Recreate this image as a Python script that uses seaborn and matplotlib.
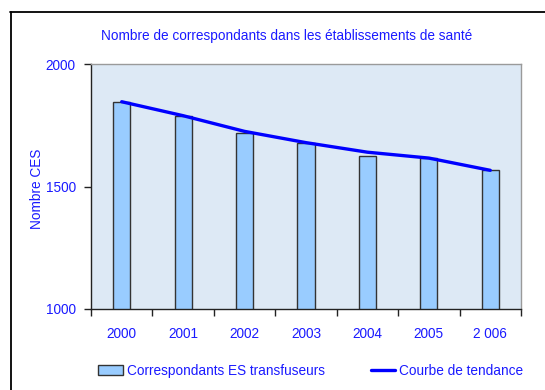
import matplotlib
matplotlib.use("Agg")
import matplotlib.pyplot as plt
from matplotlib.patches import Patch
from matplotlib.lines import Line2D
import numpy as np
import pandas as pd
import seaborn as sns

# Data
years = ["2000", "2001", "2002", "2003", "2004", "2005", "2006"]
year_labels = ["2000", "2001", "2002", "2003", "2004", "2005", "2 006"]
correspondants = [1846, 1788, 1717, 1678, 1626, 1618, 1566]
tendance = [1846, 1789, 1725, 1679, 1640, 1616, 1566]
y_ticks = [1000, 1500, 2000]

title = "Nombre de correspondants dans les établissements de santé"
y_label = "Nombre CES"
bar_label = "Correspondants ES transfuseurs"
line_label = "Courbe de tendance"

TEXT_BLUE = "#1a1aff"
BAR_FILL = "#99ccff"
BAR_EDGE = "#333333"
PLOT_BG = "#dde9f5"
FS = 9.8

sns.set_theme(style="white")
plt.rcParams["font.family"] = ["Liberation Sans", "DejaVu Sans"]

W, H = 545, 390
fig = plt.figure(figsize=(W / 100, H / 100), dpi=100)
fig.patch.set_facecolor("white")
ax = fig.add_axes([91 / W, 1 - 309 / H, (521 - 91) / W, (309 - 64) / H])
ax.set_facecolor(PLOT_BG)

df = pd.DataFrame({"annee": years, "n": correspondants})
sns.barplot(data=df, x="annee", y="n", order=years, width=0.28,
            color=BAR_FILL, saturation=1, edgecolor=BAR_EDGE, linewidth=1.0,
            ax=ax, zorder=2)

trend_df = pd.DataFrame({"pos": np.arange(len(years)), "t": tendance})
sns.lineplot(data=trend_df, x="pos", y="t", color="#0000ff", linewidth=2.4,
             ax=ax, zorder=3)

ax.set_ylim(y_ticks[0], y_ticks[-1])
ax.set_xlim(-0.5, len(years) - 0.5)
ax.set_yticks(y_ticks)
ax.set_yticklabels([str(v) for v in y_ticks], color=TEXT_BLUE, fontsize=FS)

# category labels centred, tick marks on category boundaries
ax.set_xticks(np.arange(len(years)))
ax.set_xticklabels(year_labels, color=TEXT_BLUE, fontsize=FS)
ax.tick_params(axis="x", which="major", length=0, pad=13)
ax.set_xticks(np.arange(len(years) + 1) - 0.5, minor=True)
ax.tick_params(axis="x", which="minor", length=5, width=1, color="#222222",
               direction="out", bottom=True)
ax.tick_params(axis="y", length=5, width=1, color="#222222", direction="out",
               left=True, pad=6)
ax.set_xlabel("")
ax.set_ylabel("")

for side in ["left", "bottom"]:
    ax.spines[side].set_color("#222222")
    ax.spines[side].set_linewidth(1.0)
for side in ["top", "right"]:
    ax.spines[side].set_color("#9a9a9a")
    ax.spines[side].set_linewidth(1.0)
    ax.spines[side].set_visible(True)

fig.text(287 / W, 1 - 36 / H, title, color=TEXT_BLUE, fontsize=FS,
         ha="center", va="center")
fig.text(37 / W, 1 - 189 / H, y_label, color=TEXT_BLUE, fontsize=FS,
         rotation=90, ha="center", va="center")

handles = [Patch(facecolor=BAR_FILL, edgecolor=BAR_EDGE, linewidth=1.0),
           Line2D([0], [0], color="#0000ff", linewidth=2.4)]
leg = fig.legend(handles, [bar_label, line_label], loc="center left",
                 bbox_to_anchor=(98 / W, 1 - 371 / H), ncol=2, frameon=False,
                 fontsize=FS, handlelength=1.8, handletextpad=0.3,
                 columnspacing=3.4, borderpad=0, borderaxespad=0)
for t in leg.get_texts():
    t.set_color(TEXT_BLUE)

# chart frame
fig.add_artist(Line2D([10.5 / W, 10.5 / W], [0, 1 - 12 / H],
                      transform=fig.transFigure, color="black", linewidth=1.3))
fig.add_artist(Line2D([10 / W, 1], [1 - 12 / H, 1 - 12 / H],
                      transform=fig.transFigure, color="black", linewidth=1.3))

fig.savefig("out.png", dpi=100)
